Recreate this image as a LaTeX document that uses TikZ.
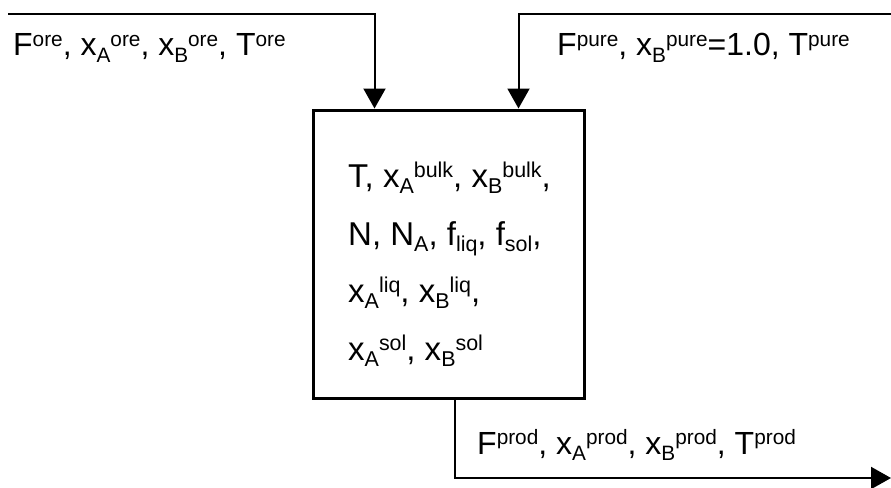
\documentclass[tikz,border=0pt]{standalone}
\usepackage{fontspec}
\setmainfont{Liberation Sans}
\usetikzlibrary{arrows.meta}
\makeatletter
% reduced size for indices, relative to the current font size
\newcommand\shrink{\fontsize{\strip@pt\dimexpr0.65\dimexpr\f@size pt\relax\relax}{0}\selectfont}
\makeatother
\newcommand\lo[1]{\raisebox{-0.2em}{\shrink #1}}
\newcommand\hi[1]{\raisebox{0.29em}{\shrink #1}}
\begin{document}
\begin{tikzpicture}[x=1pt,y=-1pt,
  flow/.style={line width=2pt,-{Triangle[width=22pt,length=20pt]}},
  unit/.style={draw,line width=3pt,rectangle,inner sep=0pt,
    minimum width=271pt,minimum height=288pt},
  streamlabel/.style={anchor=base west,inner sep=0pt,font=\fontsize{32}{38}\selectfont},
  statevar/.style={anchor=base west,inner sep=0pt,font=\fontsize{33}{40}\selectfont}]
  \useasboundingbox (0,0) rectangle (891,487);

  % mixing vessel
  \node[unit] (box) at (448.5,254) {};

  % free ends of the streams
  \coordinate (ore) at (8,14);
  \coordinate (pure) at (891,14);
  \coordinate (out) at (891,478);

  % feed and product streams
  \draw[flow] (ore) -| ([xshift=63pt]box.north west);
  \draw[flow] (pure) -| ([xshift=207pt]box.north west);
  \draw[flow] ([xshift=143pt]box.south west) |- (out);

  % stream labels
  \node[streamlabel] (lore) at (13,56)
    {F\hi{ore}, x\lo{A}\hi{ore}, x\lo{B}\hi{ore}, T\hi{ore}};
  \node[streamlabel] (lpure) at (557,56)
    {F\hi{pure}, x\lo{B}\hi{pure}=1.0, T\hi{pure}};
  \node[streamlabel] (lprod) at (477,454)
    {F\hi{prod}, x\lo{A}\hi{prod}, x\lo{B}\hi{prod}, T\hi{prod}};

  % state variables of the vessel
  \node[statevar] (v1) at (348,187) {T, x\lo{A}\hi{bulk}, x\lo{B}\hi{bulk},};
  \node[statevar] (v2) at (348,245) {N, N\lo{A}, f\lo{liq}, f\lo{sol},};
  \node[statevar] (v3) at (348,302) {x\lo{A}\hi{liq}, x\lo{B}\hi{liq},};
  \node[statevar] (v4) at (348,360) {x\lo{A}\hi{sol}, x\lo{B}\hi{sol}};
\end{tikzpicture}
\end{document}
